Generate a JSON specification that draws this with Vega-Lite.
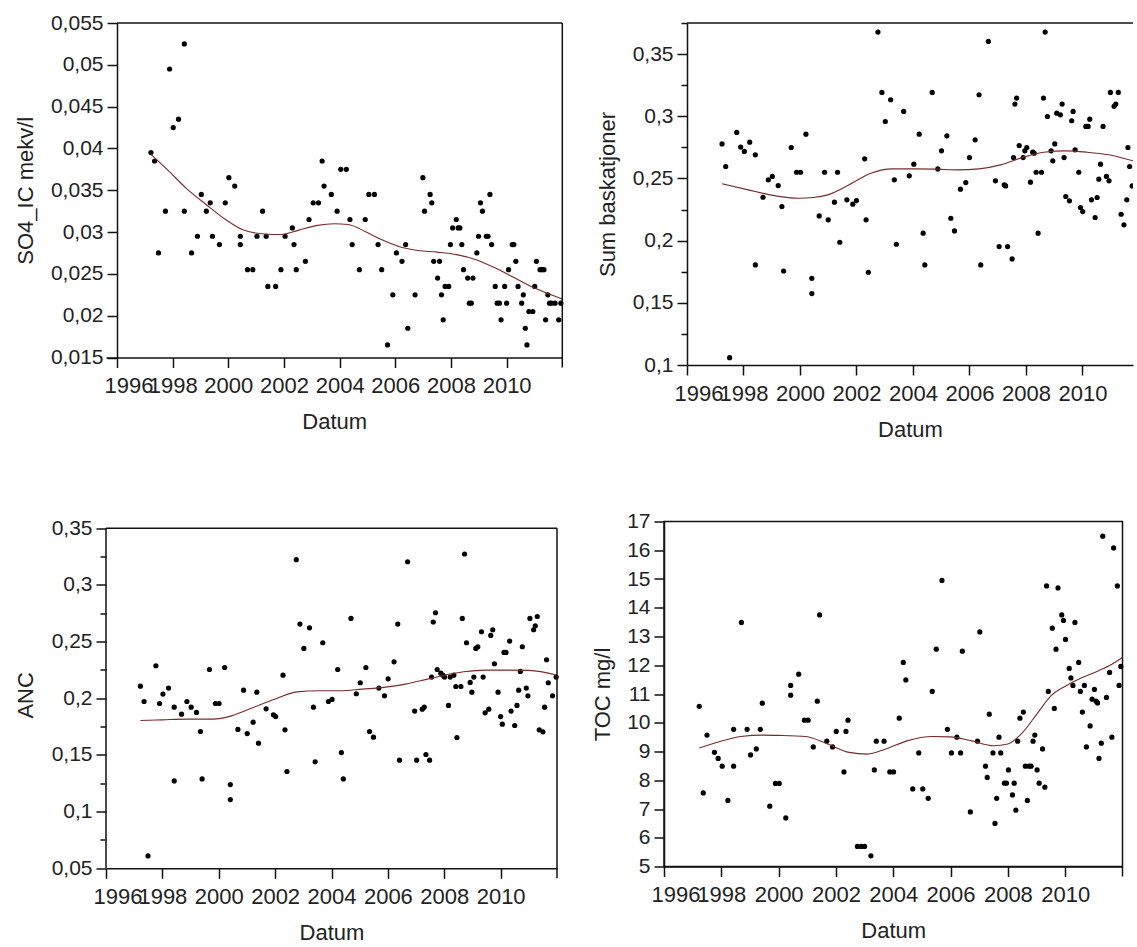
{
"$schema": "https://vega.github.io/schema/vega-lite/v6.json",
"padding": {"left": 14, "top": 12, "right": 0, "bottom": 0},
"background": "white",
"config": {
  "font": "Liberation Sans",
  "view": {"stroke": "#111", "strokeWidth": 1.5},
  "axis": {"domainColor": "#111", "domainWidth": 1.5, "tickColor": "#111", "tickWidth": 1.5, "tickSize": 10, "labelFont": "Liberation Sans", "labelFontSize": 21, "labelColor": "#222", "labelPadding": 4, "titleFont": "Liberation Sans", "titleFontSize": 22, "titleFontWeight": "normal", "titleColor": "#222", "grid": false, "labelOverlap": false, "tickCount": 100},
  "axisX": {"labelFontSize": 22, "labelPadding": 8, "titlePadding": 15, "labelFlush": true, "labelFlushOffset": 13}
},
"datasets": {
"so4": [
{"t":1997.22,"v":0.0395},{"t":1997.35,"v":0.0385},{"t":1997.49,"v":0.0275},{"t":1997.74,"v":0.0325},{"t":1997.89,"v":0.0495},{"t":1998.02,"v":0.0425},{"t":1998.21,"v":0.0435},{"t":1998.42,"v":0.0525},{"t":1998.42,"v":0.0325},{"t":1998.68,"v":0.0275},{"t":1998.89,"v":0.0295},{"t":1999.03,"v":0.0345},{"t":1999.21,"v":0.0325},{"t":1999.35,"v":0.0335},{"t":1999.43,"v":0.0295},{"t":1999.68,"v":0.0285},{"t":1999.89,"v":0.0335},{"t":2000.02,"v":0.0365},{"t":2000.23,"v":0.0355},{"t":2000.43,"v":0.0295},{"t":2000.43,"v":0.0285},{"t":2000.69,"v":0.0255},{"t":2000.88,"v":0.0255},{"t":2001.03,"v":0.0295},{"t":2001.23,"v":0.0325},{"t":2001.36,"v":0.0295},{"t":2001.42,"v":0.0235},{"t":2001.70,"v":0.0235},{"t":2001.89,"v":0.0255},{"t":2002.04,"v":0.0295},{"t":2002.30,"v":0.0305},{"t":2002.36,"v":0.0285},{"t":2002.44,"v":0.0255},{"t":2002.77,"v":0.0265},{"t":2002.90,"v":0.0315},{"t":2003.05,"v":0.0335},{"t":2003.24,"v":0.0335},{"t":2003.37,"v":0.0385},{"t":2003.44,"v":0.0355},{"t":2003.70,"v":0.0345},{"t":2003.91,"v":0.0325},{"t":2004.04,"v":0.0375},{"t":2004.24,"v":0.0375},{"t":2004.37,"v":0.0315},{"t":2004.45,"v":0.0285},{"t":2004.71,"v":0.0255},{"t":2004.92,"v":0.0315},{"t":2005.05,"v":0.0345},{"t":2005.25,"v":0.0345},{"t":2005.38,"v":0.0285},{"t":2005.51,"v":0.0255},{"t":2005.72,"v":0.0165},{"t":2005.91,"v":0.0225},{"t":2006.04,"v":0.0275},{"t":2006.24,"v":0.0265},{"t":2006.37,"v":0.0285},{"t":2006.45,"v":0.0185},{"t":2006.71,"v":0.0225},{"t":2006.99,"v":0.0365},{"t":2007.05,"v":0.0325},{"t":2007.25,"v":0.0345},{"t":2007.31,"v":0.0335},{"t":2007.38,"v":0.0265},{"t":2007.52,"v":0.0245},{"t":2007.59,"v":0.0265},{"t":2007.66,"v":0.0225},{"t":2007.72,"v":0.0195},{"t":2007.79,"v":0.0235},{"t":2007.92,"v":0.0235},{"t":2007.98,"v":0.0285},{"t":2008.06,"v":0.0305},{"t":2008.19,"v":0.0315},{"t":2008.26,"v":0.0305},{"t":2008.32,"v":0.0305},{"t":2008.39,"v":0.0285},{"t":2008.45,"v":0.0255},{"t":2008.60,"v":0.0245},{"t":2008.66,"v":0.0215},{"t":2008.73,"v":0.0215},{"t":2008.79,"v":0.0245},{"t":2008.93,"v":0.0275},{"t":2008.99,"v":0.0295},{"t":2009.06,"v":0.0335},{"t":2009.13,"v":0.0325},{"t":2009.27,"v":0.0295},{"t":2009.33,"v":0.0295},{"t":2009.40,"v":0.0345},{"t":2009.46,"v":0.0285},{"t":2009.59,"v":0.0235},{"t":2009.66,"v":0.0215},{"t":2009.74,"v":0.0215},{"t":2009.80,"v":0.0195},{"t":2009.93,"v":0.0235},{"t":2010.00,"v":0.0215},{"t":2010.07,"v":0.0255},{"t":2010.20,"v":0.0285},{"t":2010.26,"v":0.0285},{"t":2010.33,"v":0.0265},{"t":2010.41,"v":0.0235},{"t":2010.54,"v":0.0215},{"t":2010.60,"v":0.0225},{"t":2010.67,"v":0.0185},{"t":2010.73,"v":0.0165},{"t":2010.80,"v":0.0205},{"t":2010.94,"v":0.0205},{"t":2011.01,"v":0.0235},{"t":2011.07,"v":0.0265},{"t":2011.20,"v":0.0255},{"t":2011.27,"v":0.0255},{"t":2011.34,"v":0.0255},{"t":2011.40,"v":0.0195},{"t":2011.48,"v":0.0225},{"t":2011.54,"v":0.0215},{"t":2011.61,"v":0.0215},{"t":2011.74,"v":0.0215},{"t":2011.87,"v":0.0195},{"t":2011.95,"v":0.0215}
],
"so4_fit": [
{"t":1997.22,"v":0.0393},{"t":1997.8,"v":0.0375},{"t":1998.5,"v":0.0352},{"t":1999.2,"v":0.0333},{"t":1999.9,"v":0.0315},{"t":2000.5,"v":0.0303},{"t":2001.2,"v":0.0298},{"t":2001.9,"v":0.0297},{"t":2002.5,"v":0.0302},{"t":2003.2,"v":0.0308},{"t":2003.8,"v":0.0310},{"t":2004.3,"v":0.0309},{"t":2004.9,"v":0.0301},{"t":2005.5,"v":0.0291},{"t":2006.1,"v":0.0283},{"t":2006.8,"v":0.0278},{"t":2007.5,"v":0.0276},{"t":2008.2,"v":0.0273},{"t":2008.9,"v":0.0267},{"t":2009.6,"v":0.0257},{"t":2010.3,"v":0.0245},{"t":2011.0,"v":0.0233},{"t":2011.6,"v":0.0225},{"t":2012.0,"v":0.0220}
],
"sum": [
{"t":1997.24,"v":0.2778},{"t":1997.37,"v":0.2596},{"t":1997.51,"v":0.1059},{"t":1997.76,"v":0.2870},{"t":1997.90,"v":0.2752},{"t":1998.03,"v":0.2717},{"t":1998.22,"v":0.2792},{"t":1998.42,"v":0.2690},{"t":1998.42,"v":0.1805},{"t":1998.69,"v":0.2349},{"t":1998.88,"v":0.2489},{"t":1999.02,"v":0.2516},{"t":1999.23,"v":0.2443},{"t":1999.36,"v":0.2274},{"t":1999.42,"v":0.1756},{"t":1999.69,"v":0.2749},{"t":1999.88,"v":0.2550},{"t":2000.02,"v":0.2550},{"t":2000.21,"v":0.2856},{"t":2000.42,"v":0.1697},{"t":2000.42,"v":0.1574},{"t":2000.68,"v":0.2199},{"t":2000.87,"v":0.2550},{"t":2001.00,"v":0.2167},{"t":2001.22,"v":0.2309},{"t":2001.33,"v":0.2550},{"t":2001.41,"v":0.1987},{"t":2001.66,"v":0.2328},{"t":2001.87,"v":0.2293},{"t":2002.00,"v":0.2322},{"t":2002.29,"v":0.2658},{"t":2002.34,"v":0.2167},{"t":2002.42,"v":0.1746},{"t":2002.76,"v":0.3677},{"t":2002.90,"v":0.3192},{"t":2003.02,"v":0.2958},{"t":2003.21,"v":0.3133},{"t":2003.34,"v":0.2489},{"t":2003.41,"v":0.1971},{"t":2003.67,"v":0.3039},{"t":2003.87,"v":0.2521},{"t":2004.03,"v":0.2615},{"t":2004.22,"v":0.2856},{"t":2004.36,"v":0.2060},{"t":2004.42,"v":0.1805},{"t":2004.68,"v":0.3192},{"t":2004.88,"v":0.2577},{"t":2005.01,"v":0.2722},{"t":2005.20,"v":0.2843},{"t":2005.34,"v":0.2180},{"t":2005.47,"v":0.2078},{"t":2005.68,"v":0.2414},{"t":2005.87,"v":0.2467},{"t":2006.00,"v":0.2668},{"t":2006.20,"v":0.2811},{"t":2006.34,"v":0.3173},{"t":2006.40,"v":0.1805},{"t":2006.67,"v":0.3602},{"t":2006.92,"v":0.2481},{"t":2007.05,"v":0.1952},{"t":2007.23,"v":0.2448},{"t":2007.28,"v":0.2440},{"t":2007.35,"v":0.1952},{"t":2007.51,"v":0.1853},{"t":2007.56,"v":0.2668},{"t":2007.61,"v":0.3098},{"t":2007.67,"v":0.3146},{"t":2007.76,"v":0.2765},{"t":2007.90,"v":0.2668},{"t":2007.96,"v":0.2722},{"t":2008.03,"v":0.2749},{"t":2008.16,"v":0.2470},{"t":2008.24,"v":0.2711},{"t":2008.29,"v":0.2703},{"t":2008.36,"v":0.2550},{"t":2008.43,"v":0.2060},{"t":2008.55,"v":0.2550},{"t":2008.62,"v":0.3146},{"t":2008.68,"v":0.3677},{"t":2008.76,"v":0.2998},{"t":2008.89,"v":0.2722},{"t":2008.95,"v":0.2642},{"t":2009.02,"v":0.2778},{"t":2009.09,"v":0.3025},{"t":2009.22,"v":0.3012},{"t":2009.28,"v":0.3098},{"t":2009.35,"v":0.2668},{"t":2009.41,"v":0.2355},{"t":2009.54,"v":0.2320},{"t":2009.62,"v":0.2964},{"t":2009.67,"v":0.3039},{"t":2009.74,"v":0.2730},{"t":2009.87,"v":0.2550},{"t":2009.93,"v":0.2266},{"t":2010.01,"v":0.2234},{"t":2010.12,"v":0.2918},{"t":2010.20,"v":0.2918},{"t":2010.26,"v":0.2977},{"t":2010.32,"v":0.2328},{"t":2010.45,"v":0.2186},{"t":2010.52,"v":0.2347},{"t":2010.58,"v":0.2494},{"t":2010.64,"v":0.2615},{"t":2010.73,"v":0.2918},{"t":2010.85,"v":0.2516},{"t":2010.94,"v":0.2481},{"t":2010.99,"v":0.3192},{"t":2011.12,"v":0.3080},{"t":2011.18,"v":0.3098},{"t":2011.27,"v":0.3192},{"t":2011.37,"v":0.2212},{"t":2011.47,"v":0.2127},{"t":2011.57,"v":0.2328},{"t":2011.61,"v":0.2749},{"t":2011.67,"v":0.2596},{"t":2011.76,"v":0.2440}
],
"sum_fit": [
{"t":1997.24,"v":0.2457},{"t":1998.17,"v":0.2408},{"t":1998.94,"v":0.2368},{"t":1999.96,"v":0.2341},{"t":2000.47,"v":0.2347},{"t":2000.98,"v":0.2368},{"t":2001.74,"v":0.2449},{"t":2002.51,"v":0.2542},{"t":2003.27,"v":0.2577},{"t":2004.04,"v":0.2577},{"t":2004.81,"v":0.2575},{"t":2005.57,"v":0.2569},{"t":2006.34,"v":0.2577},{"t":2007.10,"v":0.2609},{"t":2007.87,"v":0.2668},{"t":2008.63,"v":0.2711},{"t":2009.40,"v":0.2722},{"t":2010.17,"v":0.2711},{"t":2010.93,"v":0.2690},{"t":2011.80,"v":0.2642},{"t":2012.0,"v":0.2632}
],
"anc": [
{"t":1997.22,"v":0.2107},{"t":1997.35,"v":0.1972},{"t":1997.49,"v":0.0609},{"t":1997.77,"v":0.2287},{"t":1997.90,"v":0.1954},{"t":1998.02,"v":0.2037},{"t":1998.22,"v":0.2090},{"t":1998.42,"v":0.1271},{"t":1998.42,"v":0.1922},{"t":1998.68,"v":0.1860},{"t":1998.87,"v":0.1972},{"t":1999.02,"v":0.1922},{"t":1999.21,"v":0.1875},{"t":1999.35,"v":0.1707},{"t":1999.41,"v":0.1289},{"t":1999.67,"v":0.2254},{"t":1999.88,"v":0.1954},{"t":2000.01,"v":0.1954},{"t":2000.21,"v":0.2272},{"t":2000.41,"v":0.1239},{"t":2000.41,"v":0.1106},{"t":2000.68,"v":0.1725},{"t":2000.88,"v":0.2072},{"t":2001.01,"v":0.1689},{"t":2001.22,"v":0.1789},{"t":2001.35,"v":0.2054},{"t":2001.41,"v":0.1604},{"t":2001.68,"v":0.1907},{"t":2001.94,"v":0.1854},{"t":2002.02,"v":0.1839},{"t":2002.28,"v":0.2204},{"t":2002.35,"v":0.1722},{"t":2002.42,"v":0.1354},{"t":2002.75,"v":0.3223},{"t":2002.88,"v":0.2655},{"t":2003.02,"v":0.2440},{"t":2003.22,"v":0.2622},{"t":2003.36,"v":0.1922},{"t":2003.42,"v":0.1439},{"t":2003.69,"v":0.2490},{"t":2003.89,"v":0.1972},{"t":2004.02,"v":0.1990},{"t":2004.22,"v":0.2254},{"t":2004.35,"v":0.1521},{"t":2004.42,"v":0.1289},{"t":2004.69,"v":0.2705},{"t":2004.88,"v":0.2040},{"t":2005.02,"v":0.2137},{"t":2005.22,"v":0.2272},{"t":2005.35,"v":0.1707},{"t":2005.49,"v":0.1657},{"t":2005.68,"v":0.2090},{"t":2005.88,"v":0.2022},{"t":2006.01,"v":0.2172},{"t":2006.22,"v":0.2322},{"t":2006.35,"v":0.2655},{"t":2006.41,"v":0.1454},{"t":2006.70,"v":0.3205},{"t":2006.95,"v":0.1887},{"t":2007.02,"v":0.1454},{"t":2007.22,"v":0.1904},{"t":2007.29,"v":0.1922},{"t":2007.35,"v":0.1504},{"t":2007.48,"v":0.1454},{"t":2007.55,"v":0.2187},{"t":2007.61,"v":0.2673},{"t":2007.69,"v":0.2755},{"t":2007.75,"v":0.2254},{"t":2007.88,"v":0.2222},{"t":2007.95,"v":0.2204},{"t":2008.01,"v":0.2187},{"t":2008.15,"v":0.1937},{"t":2008.21,"v":0.2187},{"t":2008.34,"v":0.2204},{"t":2008.41,"v":0.2104},{"t":2008.45,"v":0.1654},{"t":2008.59,"v":0.2104},{"t":2008.64,"v":0.2705},{"t":2008.72,"v":0.3273},{"t":2008.79,"v":0.2490},{"t":2008.92,"v":0.2140},{"t":2008.98,"v":0.2054},{"t":2009.05,"v":0.2187},{"t":2009.12,"v":0.2440},{"t":2009.19,"v":0.2455},{"t":2009.32,"v":0.2587},{"t":2009.38,"v":0.2187},{"t":2009.45,"v":0.1872},{"t":2009.58,"v":0.1904},{"t":2009.65,"v":0.2555},{"t":2009.72,"v":0.2605},{"t":2009.78,"v":0.2305},{"t":2009.91,"v":0.2054},{"t":2010.00,"v":0.1839},{"t":2010.06,"v":0.1772},{"t":2010.12,"v":0.2405},{"t":2010.19,"v":0.2405},{"t":2010.32,"v":0.2505},{"t":2010.37,"v":0.1887},{"t":2010.50,"v":0.1760},{"t":2010.58,"v":0.1937},{"t":2010.64,"v":0.2072},{"t":2010.70,"v":0.2237},{"t":2010.77,"v":0.2455},{"t":2010.91,"v":0.2090},{"t":2010.97,"v":0.2022},{"t":2011.04,"v":0.2705},{"t":2011.17,"v":0.2605},{"t":2011.23,"v":0.2640},{"t":2011.30,"v":0.2722},{"t":2011.37,"v":0.1722},{"t":2011.50,"v":0.1704},{"t":2011.56,"v":0.1922},{"t":2011.63,"v":0.2340},{"t":2011.69,"v":0.2137},{"t":2011.84,"v":0.2022},{"t":2011.97,"v":0.2187}
],
"anc_fit": [
{"t":1997.22,"v":0.1804},{"t":1998.00,"v":0.1810},{"t":1998.90,"v":0.1816},{"t":1999.80,"v":0.1816},{"t":2000.45,"v":0.1845},{"t":2001.22,"v":0.1919},{"t":2002.00,"v":0.1993},{"t":2002.77,"v":0.2057},{"t":2003.54,"v":0.2066},{"t":2004.31,"v":0.2066},{"t":2005.09,"v":0.2081},{"t":2005.86,"v":0.2096},{"t":2006.63,"v":0.2125},{"t":2007.40,"v":0.2169},{"t":2007.92,"v":0.2199},{"t":2008.69,"v":0.2234},{"t":2009.47,"v":0.2249},{"t":2010.24,"v":0.2249},{"t":2011.01,"v":0.2246},{"t":2012.0,"v":0.2204}
],
"toc": [
{"t":1997.23,"v":10.57},{"t":1997.37,"v":7.56},{"t":1997.50,"v":9.57},{"t":1997.76,"v":8.97},{"t":1997.89,"v":8.76},{"t":1998.03,"v":8.49},{"t":1998.23,"v":7.30},{"t":1998.43,"v":8.49},{"t":1998.43,"v":9.77},{"t":1998.70,"v":13.49},{"t":1998.90,"v":9.77},{"t":1999.02,"v":8.88},{"t":1999.22,"v":9.09},{"t":1999.36,"v":9.77},{"t":1999.43,"v":10.68},{"t":1999.69,"v":7.10},{"t":1999.89,"v":7.89},{"t":2000.02,"v":7.89},{"t":2000.25,"v":6.69},{"t":2000.42,"v":10.96},{"t":2000.42,"v":11.30},{"t":2000.70,"v":11.69},{"t":2000.90,"v":10.09},{"t":2001.03,"v":10.09},{"t":2001.21,"v":9.16},{"t":2001.35,"v":10.75},{"t":2001.43,"v":13.75},{"t":2001.68,"v":9.36},{"t":2001.88,"v":9.16},{"t":2002.01,"v":9.70},{"t":2002.28,"v":8.29},{"t":2002.35,"v":9.70},{"t":2002.42,"v":10.09},{"t":2002.75,"v":5.70},{"t":2002.88,"v":5.70},{"t":2003.00,"v":5.70},{"t":2003.22,"v":5.37},{"t":2003.34,"v":8.36},{"t":2003.41,"v":9.36},{"t":2003.68,"v":9.36},{"t":2003.88,"v":8.29},{"t":2004.01,"v":8.29},{"t":2004.21,"v":10.16},{"t":2004.35,"v":12.10},{"t":2004.44,"v":11.49},{"t":2004.68,"v":7.70},{"t":2004.89,"v":8.95},{"t":2005.03,"v":7.70},{"t":2005.22,"v":7.37},{"t":2005.36,"v":11.09},{"t":2005.50,"v":12.56},{"t":2005.70,"v":14.95},{"t":2005.89,"v":9.77},{"t":2006.03,"v":8.95},{"t":2006.22,"v":9.50},{"t":2006.35,"v":8.95},{"t":2006.41,"v":12.49},{"t":2006.69,"v":6.90},{"t":2006.94,"v":9.36},{"t":2007.02,"v":13.16},{"t":2007.22,"v":8.49},{"t":2007.28,"v":8.10},{"t":2007.35,"v":10.30},{"t":2007.48,"v":8.95},{"t":2007.55,"v":6.50},{"t":2007.61,"v":7.37},{"t":2007.69,"v":9.50},{"t":2007.75,"v":8.95},{"t":2007.88,"v":7.90},{"t":2007.95,"v":7.90},{"t":2008.02,"v":8.36},{"t":2008.16,"v":7.49},{"t":2008.22,"v":7.90},{"t":2008.28,"v":6.96},{"t":2008.34,"v":9.36},{"t":2008.42,"v":10.16},{"t":2008.54,"v":10.37},{"t":2008.61,"v":8.49},{"t":2008.68,"v":7.30},{"t":2008.74,"v":8.49},{"t":2008.81,"v":8.49},{"t":2008.88,"v":9.36},{"t":2008.94,"v":9.57},{"t":2009.02,"v":8.36},{"t":2009.09,"v":7.90},{"t":2009.21,"v":9.09},{"t":2009.29,"v":7.76},{"t":2009.35,"v":14.76},{"t":2009.41,"v":11.09},{"t":2009.55,"v":13.29},{"t":2009.62,"v":10.50},{"t":2009.68,"v":12.56},{"t":2009.75,"v":14.69},{"t":2009.88,"v":13.75},{"t":2009.94,"v":13.56},{"t":2010.01,"v":12.90},{"t":2010.14,"v":11.89},{"t":2010.20,"v":11.56},{"t":2010.27,"v":11.30},{"t":2010.34,"v":13.49},{"t":2010.47,"v":12.10},{"t":2010.53,"v":11.09},{"t":2010.60,"v":10.37},{"t":2010.67,"v":11.30},{"t":2010.74,"v":9.16},{"t":2010.87,"v":9.89},{"t":2010.94,"v":10.82},{"t":2011.02,"v":11.16},{"t":2011.08,"v":10.75},{"t":2011.13,"v":10.69},{"t":2011.18,"v":8.76},{"t":2011.26,"v":9.29},{"t":2011.31,"v":16.49},{"t":2011.44,"v":10.88},{"t":2011.55,"v":11.75},{"t":2011.63,"v":9.50},{"t":2011.69,"v":16.08},{"t":2011.82,"v":14.76},{"t":2011.88,"v":11.30},{"t":2011.94,"v":11.96}
],
"toc_fit": [
{"t":1997.23,"v":9.12},{"t":1997.93,"v":9.34},{"t":1998.68,"v":9.52},{"t":1999.44,"v":9.57},{"t":2000.0,"v":9.56},{"t":2000.95,"v":9.52},{"t":2001.71,"v":9.26},{"t":2002.46,"v":8.97},{"t":2003.09,"v":8.91},{"t":2003.72,"v":9.08},{"t":2004.48,"v":9.37},{"t":2005.36,"v":9.52},{"t":2005.99,"v":9.51},{"t":2006.74,"v":9.37},{"t":2007.50,"v":9.20},{"t":2008.00,"v":9.26},{"t":2008.51,"v":9.66},{"t":2009.01,"v":10.30},{"t":2009.51,"v":10.94},{"t":2010.02,"v":11.28},{"t":2010.52,"v":11.54},{"t":2011.03,"v":11.75},{"t":2011.53,"v":11.98},{"t":2012.0,"v":12.27}
]
},
"spacing": 69.5,
"vconcat": [
{"spacing": 31, "hconcat": [
{
 "width": 456.3, "height": 334.5,
 "view": {"stroke": null},
 "layer": [
  {"data": {"name": "so4"}, "mark": {"type": "circle", "size": 27, "color": "black", "opacity": 1},
   "encoding": {
    "x": {"field": "t", "type": "quantitative", "title": "Datum", "scale": {"domain": [1995.605, 2012], "nice": false, "zero": false},
          "axis": {"values": [1996,1998,2000,2002,2004,2006,2008,2010], "labelFlush": 12, "labelExpr": "format(datum.value, 'd')"}},
    "y": {"field": "v", "type": "quantitative", "title": "SO4_IC mekv/l", "scale": {"domain": [0.015, 0.055], "nice": false, "zero": false},
          "axis": {"values": [0.015,0.02,0.025,0.03,0.035,0.04,0.045,0.05,0.055], "offset": -11, "titlePadding": 13, "labelExpr": "replace(format(datum.value, '.3~f'), '.', ',')"}}
   }},
  {"data": {"name": "so4_fit"}, "mark": {"type": "line", "color": "#7a2a2a", "strokeWidth": 1.1, "interpolate": "monotone"},
   "encoding": {"x": {"field": "t", "type": "quantitative"}, "y": {"field": "v", "type": "quantitative"}}},
  {"data": {"values": [{}]}, "mark": {"type": "rule", "color": "#111", "strokeWidth": 1.5},
   "encoding": {"x": {"datum": 1996}, "x2": {"datum": 2012}, "y": {"datum": 0.055}}},
  {"data": {"values": [{}]}, "mark": {"type": "rule", "color": "#111", "strokeWidth": 1.5},
   "encoding": {"x": {"datum": 2012}, "y": {"datum": 0.0138}, "y2": {"datum": 0.055}}}
 ]
},
{
 "width": 446, "height": 342,
 "view": {"stroke": null},
 "layer": [
  {"data": {"name": "sum"}, "mark": {"type": "circle", "size": 27, "color": "black", "opacity": 1, "clip": true},
   "encoding": {
    "x": {"field": "t", "type": "quantitative", "title": "Datum", "scale": {"domain": [1996, 2011.79], "nice": false, "zero": false},
          "axis": {"values": [1996,1998,2000,2002,2004,2006,2008,2010], "labelExpr": "format(datum.value, 'd')"}},
    "y": {"field": "v", "type": "quantitative", "title": "Sum baskatjoner", "scale": {"domain": [0.1, 0.375], "nice": false, "zero": false},
          "axis": {"values": [0.1,0.125,0.15,0.175,0.2,0.225,0.25,0.275,0.3,0.325,0.35,0.375], "titlePadding": 13,
                   "tickSize": {"condition": {"test": "round(datum.value*200) % 2 == 1", "value": 6}, "value": 10},
                   "labelExpr": "round(datum.value*200) % 2 == 1 ? '' : replace(format(datum.value, '.2~f'), '.', ',')"}}
   }},
  {"data": {"name": "sum_fit"}, "mark": {"type": "line", "color": "#7a2a2a", "strokeWidth": 1.1, "interpolate": "monotone", "clip": true},
   "encoding": {"x": {"field": "t", "type": "quantitative"}, "y": {"field": "v", "type": "quantitative"}}},
  {"data": {"values": [{}]}, "mark": {"type": "rule", "color": "#111", "strokeWidth": 1.5},
   "encoding": {"y": {"datum": 0.375}}}
 ]
}
]},
{"spacing": 30, "hconcat": [
{
 "width": 451, "height": 346.8,
 "view": {"stroke": null},
 "layer": [
  {"data": {"name": "anc"}, "mark": {"type": "circle", "size": 27, "color": "black", "opacity": 1},
   "encoding": {
    "x": {"field": "t", "type": "quantitative", "title": "Datum", "scale": {"domain": [1996, 2012], "nice": false, "zero": false},
          "axis": {"values": [1996,1998,2000,2002,2004,2006,2008,2010], "labelExpr": "format(datum.value, 'd')"}},
    "y": {"field": "v", "type": "quantitative", "title": "ANC", "scale": {"domain": [0.05, 0.356], "nice": false, "zero": false},
          "axis": {"values": [0.05,0.075,0.1,0.125,0.15,0.175,0.2,0.225,0.25,0.275,0.3,0.325,0.35], "titlePadding": 14, "domain": false,
                   "tickSize": {"condition": {"test": "round(datum.value*200) % 2 == 1", "value": 6}, "value": 10},
                   "labelExpr": "round(datum.value*200) % 2 == 1 ? '' : replace(format(datum.value, '.2~f'), '.', ',')"}}
   }},
  {"data": {"name": "anc_fit"}, "mark": {"type": "line", "color": "#7a2a2a", "strokeWidth": 1.1, "interpolate": "monotone"},
   "encoding": {"x": {"field": "t", "type": "quantitative"}, "y": {"field": "v", "type": "quantitative"}}},
  {"data": {"values": [{}]}, "mark": {"type": "rule", "color": "#111", "strokeWidth": 1.5},
   "encoding": {"y": {"datum": 0.35}}},
  {"data": {"values": [{}]}, "mark": {"type": "rule", "color": "#111", "strokeWidth": 1.5},
   "encoding": {"x": {"datum": 2012}, "y": {"datum": 0.04118}, "y2": {"datum": 0.35}}},
  {"data": {"values": [{}]}, "mark": {"type": "rule", "color": "#111", "strokeWidth": 1.5},
   "encoding": {"x": {"datum": 1996}, "y": {"datum": 0.05}, "y2": {"datum": 0.35}}}
 ]
},
{
 "width": 458.5, "height": 345,
 "layer": [
  {"data": {"name": "toc"}, "mark": {"type": "circle", "size": 27, "color": "black", "opacity": 1},
   "encoding": {
    "x": {"field": "t", "type": "quantitative", "title": "Datum", "scale": {"domain": [1996, 2012], "nice": false, "zero": false},
          "axis": {"values": [1996,1998,2000,2002,2004,2006,2008,2010], "labelExpr": "format(datum.value, 'd')"}},
    "y": {"field": "v", "type": "quantitative", "title": "TOC mg/l", "scale": {"domain": [5, 17], "nice": false, "zero": false},
          "axis": {"values": [5,6,7,8,9,10,11,12,13,14,15,16,17], "titlePadding": 12, "labelExpr": "format(datum.value, 'd')"}}
   }},
  {"data": {"name": "toc_fit"}, "mark": {"type": "line", "color": "#7a2a2a", "strokeWidth": 1.1, "interpolate": "monotone"},
   "encoding": {"x": {"field": "t", "type": "quantitative"}, "y": {"field": "v", "type": "quantitative"}}},
  {"data": {"values": [{}]}, "mark": {"type": "rule", "color": "#111", "strokeWidth": 1.5},
   "encoding": {"x": {"datum": 2012}, "y": {"datum": 4.652}, "y2": {"datum": 5}}}
 ]
}
]}
]
}
